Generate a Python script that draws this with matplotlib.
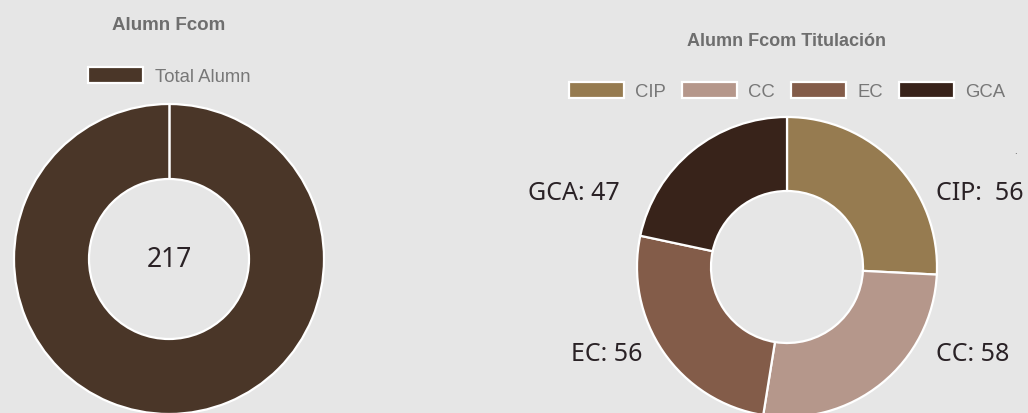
import matplotlib
matplotlib.use("Agg")
import matplotlib.pyplot as plt

# data
total_label = ["Total Alumn"]
total_value = [217]
total_colors = ["#4a3628"]

titulacion = ["CIP", "CC", "EC", "GCA"]
titulacion_values = [56, 58, 56, 47]
titulacion_colors = ["#967b50", "#b5978b", "#835c49", "#38231a"]

W, H = 1028, 414
BG = "#e6e6e6"

fig = plt.figure(figsize=(W / 100, H / 100), dpi=100, facecolor=BG)
ax = fig.add_axes([0, 0, 1, 1])
ax.set_facecolor(BG)


def py(y):
    # pixel row (from top) -> data y
    return H - y


# left donut
left_center = (169, py(260))
left_r, left_w = 155, 75
left_wedges, _ = ax.pie(total_value, colors=total_colors, startangle=90, counterclock=False,
                        radius=left_r, center=left_center,
                        wedgeprops=dict(width=left_w, edgecolor="white", linewidth=1.6), frame=True)
# seam of the single slice at 12 o'clock
ax.plot([left_center[0]] * 2, [left_center[1] + left_r - left_w, left_center[1] + left_r],
        color="white", lw=1.8, solid_capstyle="butt")
ax.text(left_center[0], left_center[1], str(sum(total_value)), ha="center", va="center",
        fontsize=19, family="Noto Sans", color="#2a2226")

# right donut
right_center = (787, py(268))
right_wedges, _ = ax.pie(titulacion_values, colors=titulacion_colors, startangle=90, counterclock=False,
                         radius=150, center=right_center,
                         wedgeprops=dict(width=74, edgecolor="white", linewidth=1.6), frame=True)

# value labels around the right donut
label_txt = ["{}:  {}", "{}: {}", "{}: {}", "{}: {}"]
offsets = [(149, 75, "left"), (149, -87, "left"), (-145, -87, "right"), (-167, 75, "right")]
for name, val, fmt, (dx, dy, ha) in zip(titulacion, titulacion_values, label_txt, offsets):
    ax.text(right_center[0] + dx, right_center[1] + dy, fmt.format(name, val), ha=ha, va="center",
            fontsize=18, family="Noto Sans", color="#2a2226")

ax.text(1015, py(152), ".", ha="center", va="center", fontsize=6, color="#333333")

# titles
title_kw = dict(ha="center", va="center", fontweight="bold",
                family="Liberation Sans", color="#6e6e6e")
ax.text(169, py(25), "Alumn Fcom", fontsize=13.5, **title_kw)
ax.text(786, py(42), "Alumn Fcom Titulación", fontsize=13, **title_kw)

# legends
leg_kw = dict(frameon=False, prop={"family": "Liberation Sans", "size": 13.3},
              labelcolor="#777777", handlelength=3.0, handleheight=1.0,
              handletextpad=0.6, columnspacing=0.85, borderaxespad=0, borderpad=0)
leg1 = ax.legend(left_wedges, total_label, loc="center", bbox_to_anchor=(169 / W, 1 - 77 / H), **leg_kw)
ax.add_artist(leg1)
ax.legend(right_wedges, titulacion, loc="center", ncol=4,
          bbox_to_anchor=(787 / W, 1 - 92 / H), **leg_kw)

ax.set_xlim(0, W)
ax.set_ylim(0, H)
ax.set_aspect("equal")
ax.axis("off")

fig.savefig("out.png", dpi=100, facecolor=BG)
